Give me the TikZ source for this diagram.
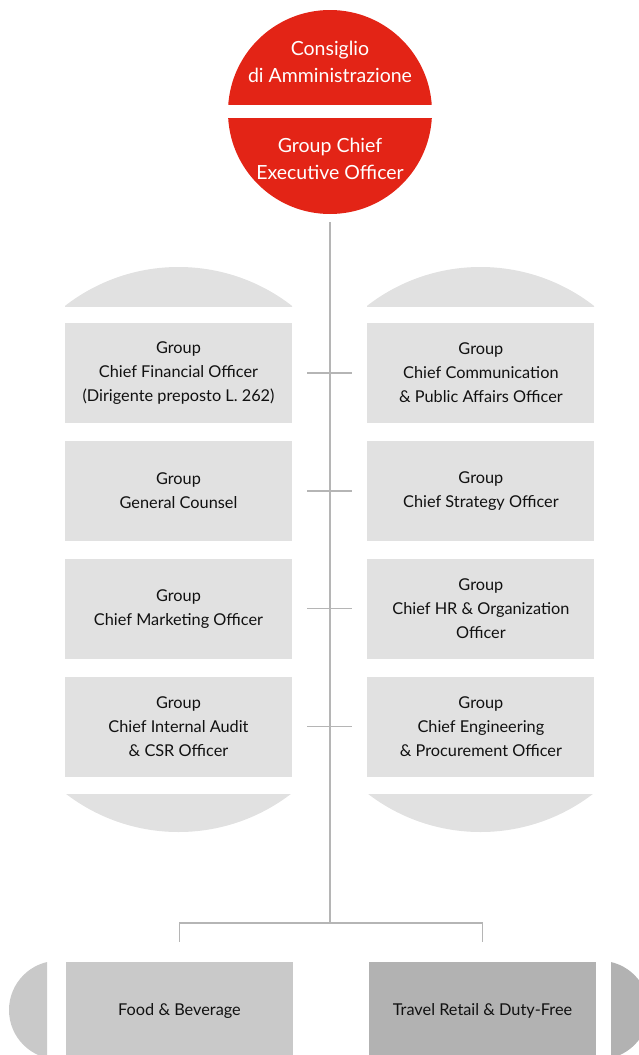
\documentclass[tikz,border=0pt]{standalone}
\usepackage{fontspec}
\setmainfont{Lato}
\usetikzlibrary{positioning}

\definecolor{groupred}{HTML}{E32416}
\definecolor{boxgray}{HTML}{E1E1E1}
\definecolor{linegray}{HTML}{B5B5B5}
\definecolor{fbgray}{HTML}{C9C9C9}
\definecolor{trgray}{HTML}{B2B2B2}
\definecolor{inkgray}{HTML}{111111}

\tikzset{
  officebox/.style={fill=boxgray, minimum width=227pt, minimum height=100pt, inner sep=0pt,
    align=center, text=inkgray, font=\fontsize{16.3}{24}\selectfont},
  unitbox/.style={officebox, minimum height=98pt},
  redtext/.style={text=white, align=center, font=\fontsize{19.5}{27}\selectfont},
  link/.style={draw=linegray, line width=1.2pt}
}

\begin{document}
\begin{tikzpicture}[x=1pt,y=1pt,yscale=-1]
\useasboundingbox (0,0) rectangle (639,1055);

%top circle, cut in two by a white band
\node[circle, fill=groupred, minimum size=204pt, inner sep=0pt] (top) at (330,112) {};
\fill[white] (220,105) rectangle (440,118);
\node[redtext] (board) at (330,62) {Consiglio\\di Amministrazione};
\node[redtext] (gceo) at (330,159) {Group Chief\\Executive Officer};

%staff functions, two columns
\node[officebox] (cfo) at (178.5,373) {Group\\Chief Financial Officer\\(Dirigente preposto L.\ 262)};
\node[officebox, right=75pt of cfo] (cca) {Group\\Chief Communication\\\& Public Affairs Officer};
\node[officebox, below=17.5pt of cfo] (gc) {Group\\General Counsel};
\node[officebox, below=17.5pt of cca] (cso) {Group\\Chief Strategy Officer};
\node[officebox, below=17.5pt of gc] (cmo) {Group\\Chief Marketing Officer};
\node[officebox, below=17.5pt of cso] (chr) {Group\\Chief HR \& Organization\\Officer};
\node[officebox, below=17.5pt of cmo] (cia) {Group\\Chief Internal Audit\\\& CSR Officer};
\node[officebox, below=17.5pt of chr] (cep) {Group\\Chief Engineering\\\& Procurement Officer};

%round caps above and below each column
\foreach \cx in {178.5,480.5}{
  \begin{scope}
    \clip (\cx-113.5,250) rectangle (\cx+113.5,306);
    \fill[boxgray] (\cx,452) circle[radius=185];
  \end{scope}
  \begin{scope}
    \clip (\cx-113.5,794) rectangle (\cx+113.5,850);
    \fill[boxgray] (\cx,647) circle[radius=185];
  \end{scope}
}

%business units
\node[unitbox, fill=fbgray] (fb) at (179.5,1011) {Food \& Beverage};
\node[unitbox, fill=trgray] (trd) at (482.5,1011) {Travel Retail \& Duty-Free};
\begin{scope}
  \clip (0,962) rectangle (47,1060);
  \fill[fbgray] (58.3,1010) circle[radius=49.3];
\end{scope}
\begin{scope}
  \clip (611,962) rectangle (639,1060);
  \fill[trgray] (599.7,1010) circle[radius=49.3];
\end{scope}

%connectors (y runs downwards here, so a shift up is a negative yshift)
\coordinate (hub) at (330,923);
\draw[link] ([yshift=8pt]top.south) -- (hub);
\draw[link] ([xshift=15pt]cfo.east) -- ([xshift=-15pt]cca.west);
\draw[link] ([xshift=15pt]gc.east) -- ([xshift=-15pt]cso.west);
\draw[link] ([xshift=15pt]cmo.east) -- ([xshift=-15pt]chr.west);
\draw[link] ([xshift=15pt]cia.east) -- ([xshift=-15pt]cep.west);
\draw[link] ([yshift=-20pt]fb.north) |- (hub) -| ([yshift=-20pt]trd.north);

\end{tikzpicture}
\end{document}
